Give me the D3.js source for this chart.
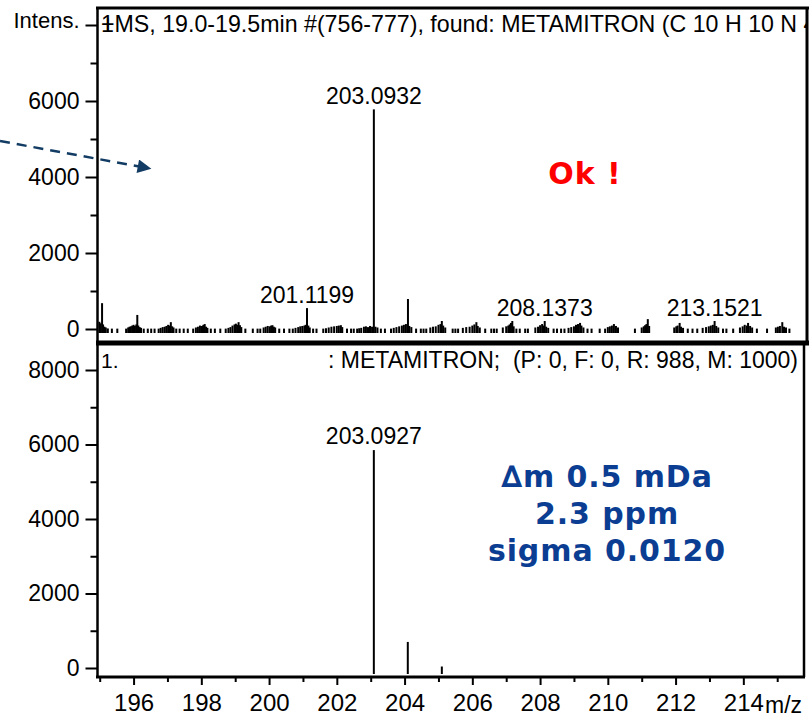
<!DOCTYPE html>
<html>
<head>
<meta charset="utf-8">
<script src="https://cdn.jsdelivr.net/npm/d3@7"></script>
<style>
  body { margin: 0; background: #fff; }
  svg text { font-family: Arial, "Liberation Sans", sans-serif; fill: #000; }
</style>
</head>
<body>
<svg id="chart" width="812" height="717"></svg>
<script>
// ---- data ----
const mzMajor = [196, 198, 200, 202, 204, 206, 208, 210, 212, 214];
const mzMinor = [195, 197, 199, 201, 203, 205, 207, 209, 211, 213, 215];
const intMajor = [0, 2000, 4000, 6000, 8000];
const intMinor = [1000, 3000, 5000, 7000];

// measured spectrum, [m/z, intensity]
const measured = [
  [194.99, 190], [195.03, 150], [195.07, 680], [195.10, 120], [195.14, 60], [195.18, 40], [195.24, 15], [195.36, 10], [195.52, 10],
  [195.78, 10], [195.84, 40], [195.88, 60], [195.92, 70], [195.96, 90], [196.00, 110], [196.04, 80], [196.08, 120], [196.11, 370], [196.14, 90], [196.18, 50], [196.22, 30], [196.30, 10], [196.42, 10], [196.52, 10], [196.62, 10],
  [196.74, 10], [196.80, 30], [196.86, 50], [196.92, 60], [196.97, 80], [197.02, 110], [197.06, 90], [197.10, 180], [197.14, 70], [197.18, 40], [197.26, 10], [197.36, 10], [197.48, 10], [197.60, 10],
  [197.76, 10], [197.84, 40], [197.90, 60], [197.96, 90], [198.02, 80], [198.06, 110], [198.10, 130], [198.14, 60], [198.18, 30], [198.28, 10], [198.40, 10], [198.56, 10],
  [198.72, 10], [198.80, 30], [198.86, 50], [198.92, 90], [198.98, 120], [199.02, 140], [199.06, 110], [199.10, 180], [199.14, 100], [199.18, 50], [199.30, 10], [199.52, 10],
  [199.66, 10], [199.74, 10], [199.84, 40], [199.90, 60], [199.96, 80], [200.02, 70], [200.06, 90], [200.10, 100], [200.14, 60], [200.18, 40], [200.30, 10], [200.44, 10],
  [200.60, 10], [200.70, 10], [200.78, 30], [200.86, 50], [200.92, 70], [200.98, 80], [201.04, 90], [201.08, 110], [201.1199, 550], [201.16, 90], [201.20, 40], [201.30, 10], [201.40, 10],
  [201.60, 10], [201.68, 20], [201.76, 40], [201.84, 60], [201.92, 70], [202.00, 80], [202.06, 90], [202.12, 100], [202.16, 50], [202.30, 10], [202.42, 10], [202.50, 10],
  [202.60, 10], [202.66, 20], [202.72, 30], [202.80, 60], [202.86, 70], [202.92, 50], [202.98, 80], [203.04, 60], [203.0932, 5780], [203.14, 60], [203.20, 40], [203.30, 10], [203.42, 10],
  [203.60, 10], [203.68, 30], [203.76, 50], [203.84, 70], [203.92, 90], [203.98, 110], [204.04, 130], [204.10, 790], [204.14, 80], [204.20, 50], [204.34, 10],
  [204.48, 10], [204.56, 10], [204.64, 10], [204.76, 40], [204.84, 60], [204.92, 70], [205.00, 110], [205.06, 130], [205.10, 210], [205.14, 90], [205.20, 40],
  [205.42, 10], [205.50, 10], [205.58, 10], [205.72, 30], [205.82, 50], [205.92, 60], [206.00, 90], [206.06, 120], [206.12, 180], [206.16, 80], [206.22, 40], [206.38, 10],
  [206.56, 10], [206.64, 10], [206.72, 10], [206.90, 40], [207.00, 70], [207.06, 90], [207.10, 120], [207.14, 160], [207.18, 210], [207.22, 70], [207.30, 10],
  [207.40, 10], [207.56, 10], [207.64, 10], [207.86, 40], [207.94, 60], [208.00, 100], [208.06, 130], [208.10, 90], [208.1373, 210], [208.18, 60], [208.24, 30],
  [208.40, 10], [208.50, 10], [208.62, 10], [208.72, 10], [208.84, 30], [208.92, 50], [209.00, 70], [209.06, 110], [209.12, 130], [209.18, 160], [209.22, 90], [209.28, 40], [209.40, 10], [209.52, 10],
  [209.76, 10], [209.92, 10], [210.00, 50], [210.06, 70], [210.12, 90], [210.18, 130], [210.24, 80], [210.30, 40],
  [210.80, 10], [211.00, 40], [211.06, 70], [211.10, 100], [211.14, 130], [211.18, 260], [211.22, 80],
  [211.96, 40], [212.02, 70], [212.06, 90], [212.12, 160], [212.16, 60], [212.22, 30], [212.36, 10],
  [212.50, 10], [212.64, 10], [212.80, 30], [212.90, 50], [212.98, 70], [213.04, 90], [213.10, 110], [213.1521, 210], [213.20, 80], [213.26, 40], [213.40, 10], [213.50, 10],
  [213.70, 10], [213.90, 40], [213.98, 70], [214.04, 110], [214.10, 90], [214.14, 160], [214.20, 80], [214.26, 40], [214.40, 10],
  [214.70, 10], [214.96, 40], [215.02, 60], [215.08, 80], [215.15, 180], [215.20, 60], [215.26, 40], [215.36, 10]
];
const measuredLabels = [
  [201.1199, 550, "201.1199"], [203.0932, 5780, "203.0932"],
  [208.1373, 210, "208.1373"], [213.1521, 210, "213.1521"]
];

// simulated isotope pattern
const simulated = [[203.0927, 5850], [204.095, 700], [205.10, 40]];
const simulatedLabels = [[203.0927, 5850, "203.0927"]];

const topTitle = "+MS, 19.0-19.5min #(756-777), found: METAMITRON (C 10 H 10 N 4";
const botTitle = ": METAMITRON;  (P: 0, F: 0, R: 988, M: 1000)";
const resultLines = ["\u2206m 0.5 mDa", "2.3 ppm", "sigma 0.0120"];

// ---- layout ----
const svg = d3.select("#chart");
const x = d3.scaleLinear().domain([194.95, 215.85]).range([98, 806]);
const yTop = d3.scaleLinear().domain([0, 8000]).range([329, 25]);
const yBot = d3.scaleLinear().domain([0, 8000]).range([668, 370]);
const topBox = {x0: 98, x1: 807, y0: 8, y1: 343};
const botBox = {x0: 98, x1: 804, y0: 343, y1: 677};
const font = "Arial, 'Liberation Sans', sans-serif";

svg.append("defs").append("clipPath").attr("id", "clipTop")
  .append("rect").attr("x", topBox.x0).attr("y", topBox.y0)
  .attr("width", topBox.x1 - topBox.x0 - 1).attr("height", topBox.y1 - topBox.y0 - 3);
svg.select("defs").append("marker")
  .attr("id", "arrow").attr("viewBox", "0 0 10 10").attr("refX", 9).attr("refY", 5)
  .attr("markerWidth", 7).attr("markerHeight", 5.5).attr("markerUnits", "strokeWidth")
  .attr("orient", "auto")
  .append("path").attr("d", "M0,0L10,5L0,10Z").attr("fill", "#123c63");

function sticks(g, data, y, base, w) {
  g.selectAll("line.stick").data(data).enter().append("line")
    .attr("class", "stick")
    .attr("x1", d => x(d[0])).attr("x2", d => x(d[0]))
    .attr("y1", y(0) + base).attr("y2", d => y(d[1]))
    .attr("stroke", "#000").attr("stroke-width", d => d[1] > 1000 ? 2 : w);
}

function yAxis(y, label8000) {
  const g = svg.append("g").attr("transform", "translate(97.5,0)");
  g.call(d3.axisLeft(y).tickValues(intMajor).tickSize(12).tickPadding(6)
    .tickFormat(d => (d === 8000 && label8000) ? "Intens." : d));
  g.append("g").call(d3.axisLeft(y).tickValues(intMinor).tickSize(7).tickFormat(""));
  g.selectAll(".domain").remove();
  g.selectAll("line").attr("stroke", "#000").attr("stroke-width", 2);
  g.selectAll("text").attr("font-size", 23).attr("font-family", font).attr("fill", "#000");
  if (label8000) g.selectAll(".tick text").filter(d => d === 8000).attr("font-size", 22).attr("dy", "0.1em");
  return g;
}

// top panel
const topG = svg.append("g").attr("clip-path", "url(#clipTop)");
sticks(topG, measured, yTop, 4, 2);
topG.selectAll("text.peak").data(measuredLabels).enter().append("text")
  .attr("class", "peak")
  .attr("x", d => x(d[0])).attr("y", d => yTop(d[1]) - 5)
  .attr("text-anchor", "middle").attr("font-size", 23)
  .text(d => d[2]);
const tt = topG.append("text").attr("x", 101).attr("y", 32).attr("font-size", 23.2);
tt.append("tspan").text("1");
tt.append("tspan").attr("dx", -13).text(topTitle);
yAxis(yTop, true);

// bottom panel
const botG = svg.append("g");
sticks(botG, simulated, yBot, 6, 2);
botG.selectAll("text.peak").data(simulatedLabels).enter().append("text")
  .attr("class", "peak")
  .attr("x", d => x(d[0])).attr("y", d => yBot(d[1]) - 6)
  .attr("text-anchor", "middle").attr("font-size", 23)
  .text(d => d[2]);
botG.append("text").attr("x", 101).attr("y", 368).attr("font-size", 21).text("1.");
botG.append("text").attr("x", 798).attr("y", 368).attr("font-size", 23)
  .attr("text-anchor", "end").style("white-space", "pre").text(botTitle);
yAxis(yBot, false);

// x axis
const xg = svg.append("g").attr("transform", `translate(0,${botBox.y1})`);
xg.call(d3.axisBottom(x).tickValues(mzMajor).tickSize(8).tickPadding(9));
xg.append("g").call(d3.axisBottom(x).tickValues(mzMinor).tickSize(5).tickFormat(""));
xg.selectAll(".domain").remove();
xg.selectAll("line").attr("stroke", "#000").attr("stroke-width", 2);
xg.selectAll("text").attr("font-size", 24).attr("font-family", font).attr("fill", "#000");
svg.append("text").attr("x", 765).attr("y", 713).attr("font-size", 23).text("m/z");

// frames
const frame = svg.append("g").attr("stroke", "#000").attr("fill", "none");
frame.append("line").attr("x1", 96).attr("x2", 809).attr("y1", topBox.y0).attr("y2", topBox.y0).attr("stroke-width", 3);
frame.append("line").attr("x1", topBox.x1).attr("x2", topBox.x1).attr("y1", topBox.y0).attr("y2", topBox.y1).attr("stroke-width", 3);
frame.append("line").attr("x1", 97.5).attr("x2", 97.5).attr("y1", topBox.y0).attr("y2", botBox.y1 + 1).attr("stroke-width", 2.5);
frame.append("line").attr("x1", 96).attr("x2", 809).attr("y1", topBox.y1).attr("y2", topBox.y1).attr("stroke-width", 5);
frame.append("line").attr("x1", botBox.x1).attr("x2", botBox.x1).attr("y1", botBox.y0).attr("y2", botBox.y1).attr("stroke-width", 2.5);
frame.append("line").attr("x1", 96).attr("x2", botBox.x1 + 1).attr("y1", botBox.y1).attr("y2", botBox.y1).attr("stroke-width", 3);

// annotations
svg.append("line")
  .attr("x1", 0).attr("y1", 141).attr("x2", 150).attr("y2", 168.5)
  .attr("stroke", "#123c63").attr("stroke-width", 2.5)
  .attr("stroke-dasharray", "10,7").attr("marker-end", "url(#arrow)");

svg.append("text").attr("x", 585).attr("y", 184)
  .attr("text-anchor", "middle").attr("font-size", 30).attr("font-weight", "bold")
  .attr("letter-spacing", 1)
  .style("font-family", "Verdana, 'DejaVu Sans', sans-serif").style("fill", "#ff0000")
  .text("Ok !");

svg.append("g").selectAll("text").data(resultLines).enter().append("text")
  .attr("x", 607).attr("y", (d, i) => 487 + i * 37)
  .attr("text-anchor", "middle").attr("font-size", 30).attr("font-weight", "bold")
  .attr("letter-spacing", 0.9)
  .style("font-family", "Verdana, 'DejaVu Sans', sans-serif").style("fill", "#0b3d92")
  .text(d => d);
</script>
</body>
</html>
